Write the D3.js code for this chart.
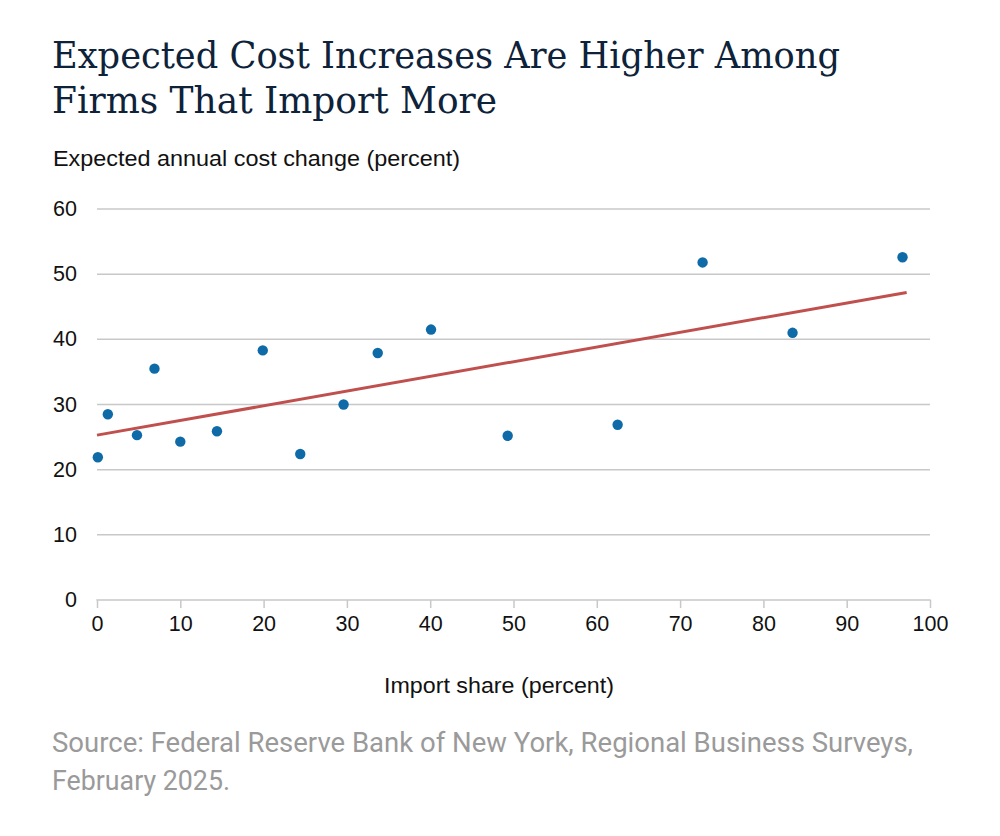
<!DOCTYPE html>
<html><head><meta charset="utf-8">
<script src="https://cdn.jsdelivr.net/npm/d3@7"></script>
<style>body{margin:0;background:#fff}</style>
</head><body>
<svg id="c" width="1000" height="836"></svg>
<script>
const importShare = [0.1, 1.3, 4.8, 6.9, 10, 14.4, 19.9, 24.4, 29.6, 33.7, 40.1, 49.3, 62.5, 72.7, 83.5, 96.7];
const costChange  = [21.9, 28.5, 25.3, 35.5, 24.3, 25.9, 38.3, 22.4, 30.0, 37.9, 41.5, 25.2, 26.9, 51.8, 41.0, 52.6];
const trendX = [0, 97.2];
const trendY = [25.3, 47.2];
const xTicks = [0,10,20,30,40,50,60,70,80,90,100];
const yTicks = [0,10,20,30,40,50,60];
const titleLines = ["Expected Cost Increases Are Higher Among", "Firms That Import More"];
const sourceLines = ["Source: Federal Reserve Bank of New York, Regional Business Surveys,", "February 2025."];

const svg = d3.select("#c");
const x = d3.scaleLinear().domain([0,100]).range([97,930]);
const y = d3.scaleLinear().domain([0,60]).range([600,209]);
const sans = "Liberation Sans, Arial, sans-serif";

svg.selectAll("text.title").data(titleLines).enter().append("text")
  .attr("class","title")
  .attr("x",52).attr("y",(d,i)=>68+i*45)
  .attr("font-family","DejaVu Serif, serif").attr("font-size",37)
  .attr("textLength",(d,i)=>i===0?788:445).attr("lengthAdjust","spacingAndGlyphs")
  .attr("fill","#0e2239").text(d=>d);

svg.append("text").attr("x",53).attr("y",166)
  .attr("font-family",sans).attr("font-size",21.5)
  .attr("textLength",407).attr("lengthAdjust","spacingAndGlyphs")
  .attr("fill","#111").text("Expected annual cost change (percent)");

// gridlines
svg.append("g").selectAll("line").data(yTicks.filter(d=>d>0)).enter().append("line")
  .attr("x1",x(0)).attr("x2",x(100)).attr("y1",d=>y(d)).attr("y2",d=>y(d))
  .attr("stroke","#c8c8c8").attr("stroke-width",1.5);

// y labels
svg.append("g").selectAll("text").data(yTicks).enter().append("text")
  .attr("x",77).attr("y",d=>y(d)+7).attr("text-anchor","end")
  .attr("font-family",sans).attr("font-size",21.5)
  .attr("fill","#111").text(d=>d);

// x axis
const xAxis = d3.axisBottom(x).tickValues(xTicks).tickSize(8).tickPadding(8);
const gx = svg.append("g").attr("transform","translate(0,600)").call(xAxis);
gx.select(".domain").attr("stroke","#c8c8c8").attr("stroke-width",1.5).attr("d",`M${x(0)},0.5V0H${x(100)}V0.5`);
gx.selectAll(".tick line").attr("stroke","#c8c8c8").attr("stroke-width",1.5);
gx.selectAll(".tick text").attr("font-family",sans).attr("font-size",21.5).attr("fill","#111");

svg.append("text").attr("x",499).attr("y",693).attr("text-anchor","middle")
  .attr("font-family",sans).attr("font-size",21.5)
  .attr("textLength",230).attr("lengthAdjust","spacingAndGlyphs")
  .attr("fill","#111").text("Import share (percent)");

// trend
svg.append("line").attr("x1",x(trendX[0])).attr("y1",y(trendY[0]))
  .attr("x2",x(trendX[1])).attr("y2",y(trendY[1]))
  .attr("stroke","#c0504d").attr("stroke-width",3);

// points
svg.append("g").selectAll("circle").data(importShare.map((v,i)=>[v,costChange[i]])).enter().append("circle")
  .attr("cx",d=>x(d[0])).attr("cy",d=>y(d[1])).attr("r",5.2).attr("fill","#0e6ba8");

svg.selectAll("text.src").data(sourceLines).enter().append("text")
  .attr("class","src")
  .attr("x",52).attr("y",(d,i)=>752+i*38)
  .attr("font-family","Roboto, sans-serif").attr("font-size",27)
  .attr("fill","#9a9a9a")
  .attr("textLength",(d,i)=>i===0?861:178).attr("lengthAdjust","spacingAndGlyphs")
  .text(d=>d);
</script>
</body></html>
